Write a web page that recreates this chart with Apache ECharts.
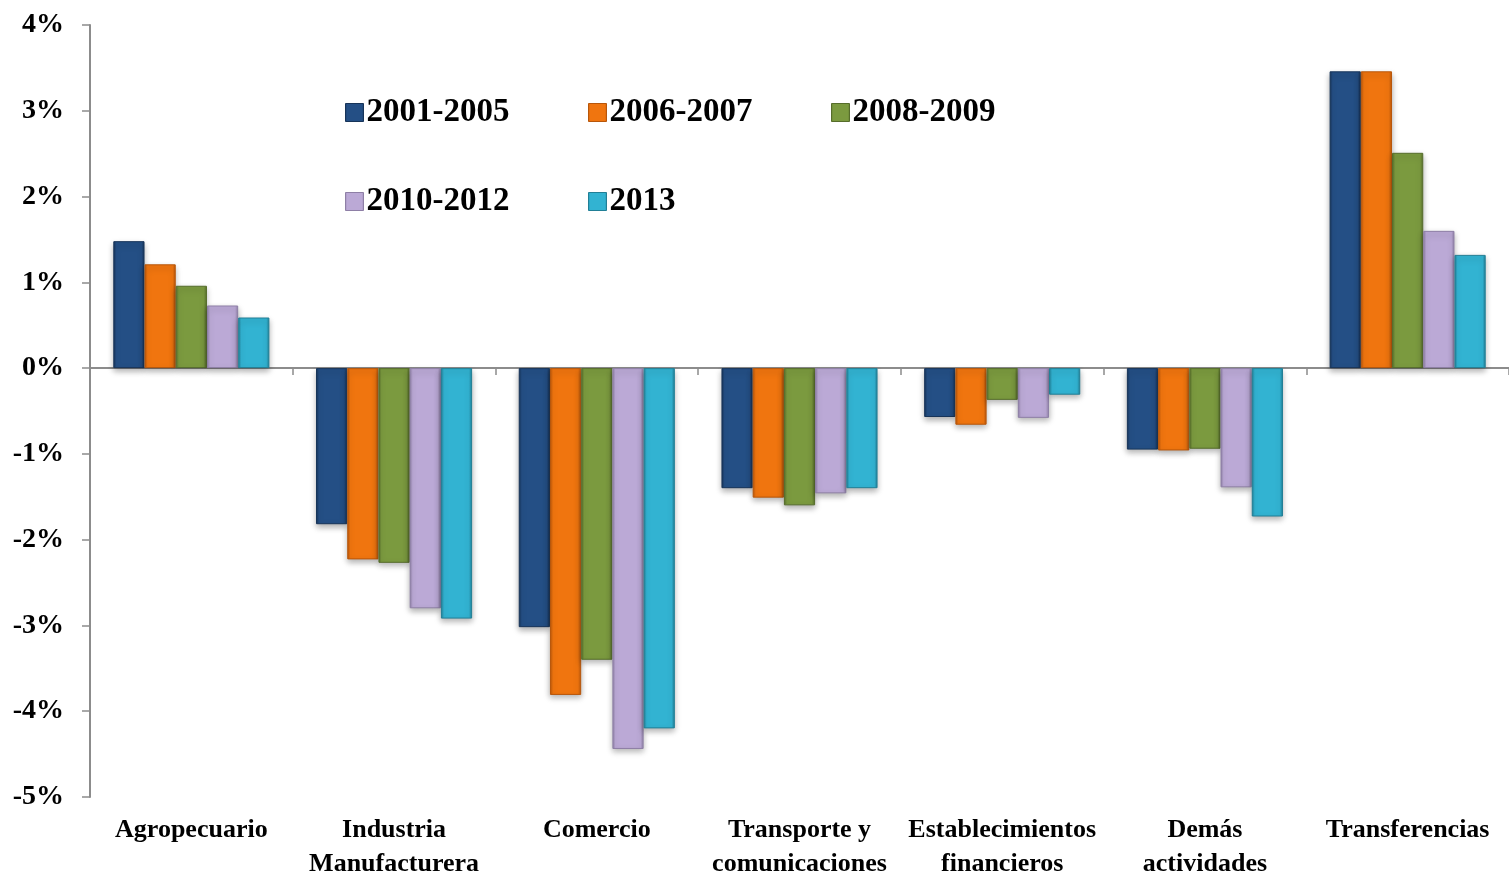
<!DOCTYPE html>
<html><head><meta charset="utf-8">
<script src="https://cdn.jsdelivr.net/npm/echarts@6/dist/echarts.min.js"></script>
<style>html,body{margin:0;padding:0;background:#fff}#c{width:1509px;height:881px}</style>
</head><body><div id="c"></div>
<script>
var categories = ['Agropecuario', 'Industria\nManufacturera', 'Comercio', 'Transporte y\ncomunicaciones', 'Establecimientos\nfinancieros', 'Demás\nactividades', 'Transferencias'];
var seriesNames = ['2001-2005', '2006-2007', '2008-2009', '2010-2012', '2013'];
var s2001_2005 = [1.48, -1.82, -3.02, -1.40, -0.57, -0.95, 3.46];
var s2006_2007 = [1.21, -2.23, -3.81, -1.51, -0.66, -0.96, 3.46];
var s2008_2009 = [0.96, -2.27, -3.40, -1.60, -0.37, -0.94, 2.51];
var s2010_2012 = [0.73, -2.80, -4.44, -1.46, -0.58, -1.39, 1.60];
var s2013 = [0.59, -2.92, -4.20, -1.40, -0.31, -1.73, 1.32];
var yTicks = [-5, -4, -3, -2, -1, 0, 1, 2, 3, 4];

var seriesData = [s2001_2005, s2006_2007, s2008_2009, s2010_2012, s2013];
var baseColors = ['#244f85', '#f0750f', '#7b9a3f', '#bba9d6', '#32b3d2'];
var darkColors = ['#173459', '#b8560a', '#566d2b', '#8e7fa6', '#217f96'];

function grad(i) {
  return new echarts.graphic.LinearGradient(0, 0, 1, 0, [
    {offset: 0, color: darkColors[i]},
    {offset: 0.1, color: baseColors[i]},
    {offset: 0.9, color: baseColors[i]},
    {offset: 1, color: darkColors[i]}
  ]);
}

var font = '"Liberation Serif", "DejaVu Serif", serif';
var series = seriesNames.map(function (n, i) {
  return {
    name: n, type: 'bar', data: seriesData[i], xAxisIndex: 0,
    barGap: '0%', barCategoryGap: '23%',
    itemStyle: {color: grad(i), borderColor: darkColors[i], borderWidth: 1,
      shadowBlur: 6, shadowColor: 'rgba(0,0,0,0.3)', shadowOffsetY: 3}
  };
});

var legendPos = [[340, 91], [583, 91], [826, 91], [340, 180], [583, 180]];
var legends = seriesNames.map(function (n, i) {
  return {
    data: [{name: n, itemStyle: {color: grad(i), borderColor: darkColors[i], borderWidth: 1}}],
    left: legendPos[i][0], top: legendPos[i][1],
    itemWidth: 18, itemHeight: 18, itemGap: 8, icon: 'rect',
    textStyle: {fontFamily: font, fontWeight: 'bold', fontSize: 33, color: '#000', padding: [0, 0, 0, -2]},
    selectedMode: false
  };
});

var chart = echarts.init(document.getElementById('c'));
chart.setOption({
  animation: false,
  legend: legends,
  grid: {left: 90, top: 25, width: 1428, bottom: 70, containLabel: false},
  xAxis: [{
    type: 'category', data: categories, position: 'bottom',
    axisLine: {show: false, onZero: false}, axisTick: {show: false},
    axisLabel: {interval: 0, fontFamily: font, fontWeight: 'bold', fontSize: 26, color: '#000', margin: 16, lineHeight: 34}
  }, {
    type: 'category', data: categories, position: 'top',
    axisLine: {show: true, onZero: true, lineStyle: {color: '#8c8c8c', width: 2}},
    axisTick: {show: true, inside: true, length: 7, lineStyle: {color: '#8c8c8c', width: 1.5}},
    axisLabel: {show: false}
  }],
  yAxis: {
    type: 'value', min: -5, max: 4, interval: 1,
    splitLine: {show: false},
    axisLine: {show: true, lineStyle: {color: '#8c8c8c', width: 2}},
    axisTick: {show: true, length: 8, lineStyle: {color: '#8c8c8c', width: 1.5}},
    axisLabel: {formatter: function (v) { return yTicks.indexOf(v) >= 0 ? v + '%' : ''; },
      fontFamily: font, fontWeight: 'bold', fontSize: 28, color: '#000', margin: 26}
  },
  series: series
});
</script></body></html>
